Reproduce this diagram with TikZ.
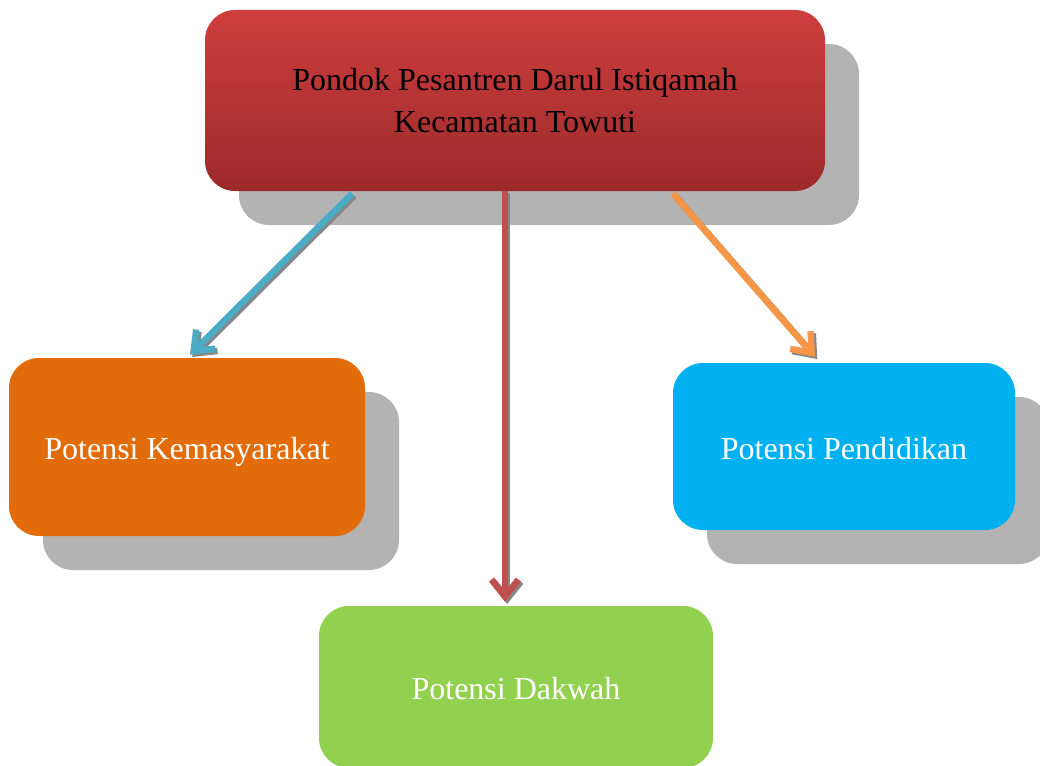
\documentclass[tikz,border=0pt]{standalone}
\usepackage{fontspec}
\setmainfont{Liberation Serif}
\usetikzlibrary{arrows.meta,calc,shadows}
\definecolor{topA}{RGB}{206,62,62}
\definecolor{topB}{RGB}{156,42,42}
\definecolor{orng}{RGB}{227,108,10}
\definecolor{cyn}{RGB}{0,176,240}
\definecolor{grn}{RGB}{146,208,80}
\definecolor{shd}{RGB}{179,179,179}
\definecolor{arB}{RGB}{75,172,198}
\definecolor{arR}{RGB}{192,80,77}
\definecolor{arO}{RGB}{247,150,70}
\definecolor{arS}{RGB}{135,135,135}
\tikzset{
  box/.style={rectangle, rounded corners=30pt, inner sep=0pt, align=center,
    font=\fontsize{32}{42}\selectfont, text=white},
  onetext/.style={text height=25pt, text depth=0pt},
  shadowed/.style={general shadow={fill=shd, shadow xshift=34pt, shadow yshift=-34pt}},
  conn/.style={line width=6.5pt, -{Straight Barb[length=17pt,width=27pt]}},
  connshadow/.style={conn, draw=arS}
}
\begin{document}
\begin{tikzpicture}[x=1pt,y=-1pt]
\useasboundingbox (0,0) rectangle (1040,765);
\node[box, shadowed, top color=topA, bottom color=topB, text=black,
  minimum width=620pt, minimum height=181pt] (top) at (515,100.5)
  {Pondok Pesantren Darul Istiqamah\\Kecamatan Towuti};
\node[box, shadowed, onetext, fill=orng, minimum width=356pt, minimum height=178pt]
  (left) at (187,447) {Potensi Kemasyarakat};
\node[box, shadowed, onetext, fill=cyn, minimum width=342pt, minimum height=167pt]
  (right) at (844,446.5) {Potensi Pendidikan};
\node[box, onetext, fill=grn, minimum width=394pt, minimum height=162pt]
  (bottom) at (516,687) {Potensi Dakwah};
\coordinate (bs) at ($(top.south)+(-163,2.5)$);
\coordinate (be) at ($(left.north)+(3,-3)$);
\coordinate (rs) at ($(top.south)+(-10,0)$);
\coordinate (re) at ($(bottom.north)+(-11,-4)$);
\coordinate (os) at ($(top.south)+(158,2.5)$);
\coordinate (oe) at ($(right.north)+(-29,-6)$);
\draw[connshadow] ([shift={(2.2,2.2)}]bs) -- ([shift={(2.2,2.2)}]be);
\draw[connshadow] ([shift={(2.2,2.2)}]rs) -- ([shift={(2.2,2.2)}]re);
\draw[connshadow] ([shift={(2.2,2.2)}]os) -- ([shift={(2.2,2.2)}]oe);
\draw[conn, arB] (bs) -- (be);
\draw[conn, arR] (rs) -- (re);
\draw[conn, arO] (os) -- (oe);
\end{tikzpicture}
\end{document}
